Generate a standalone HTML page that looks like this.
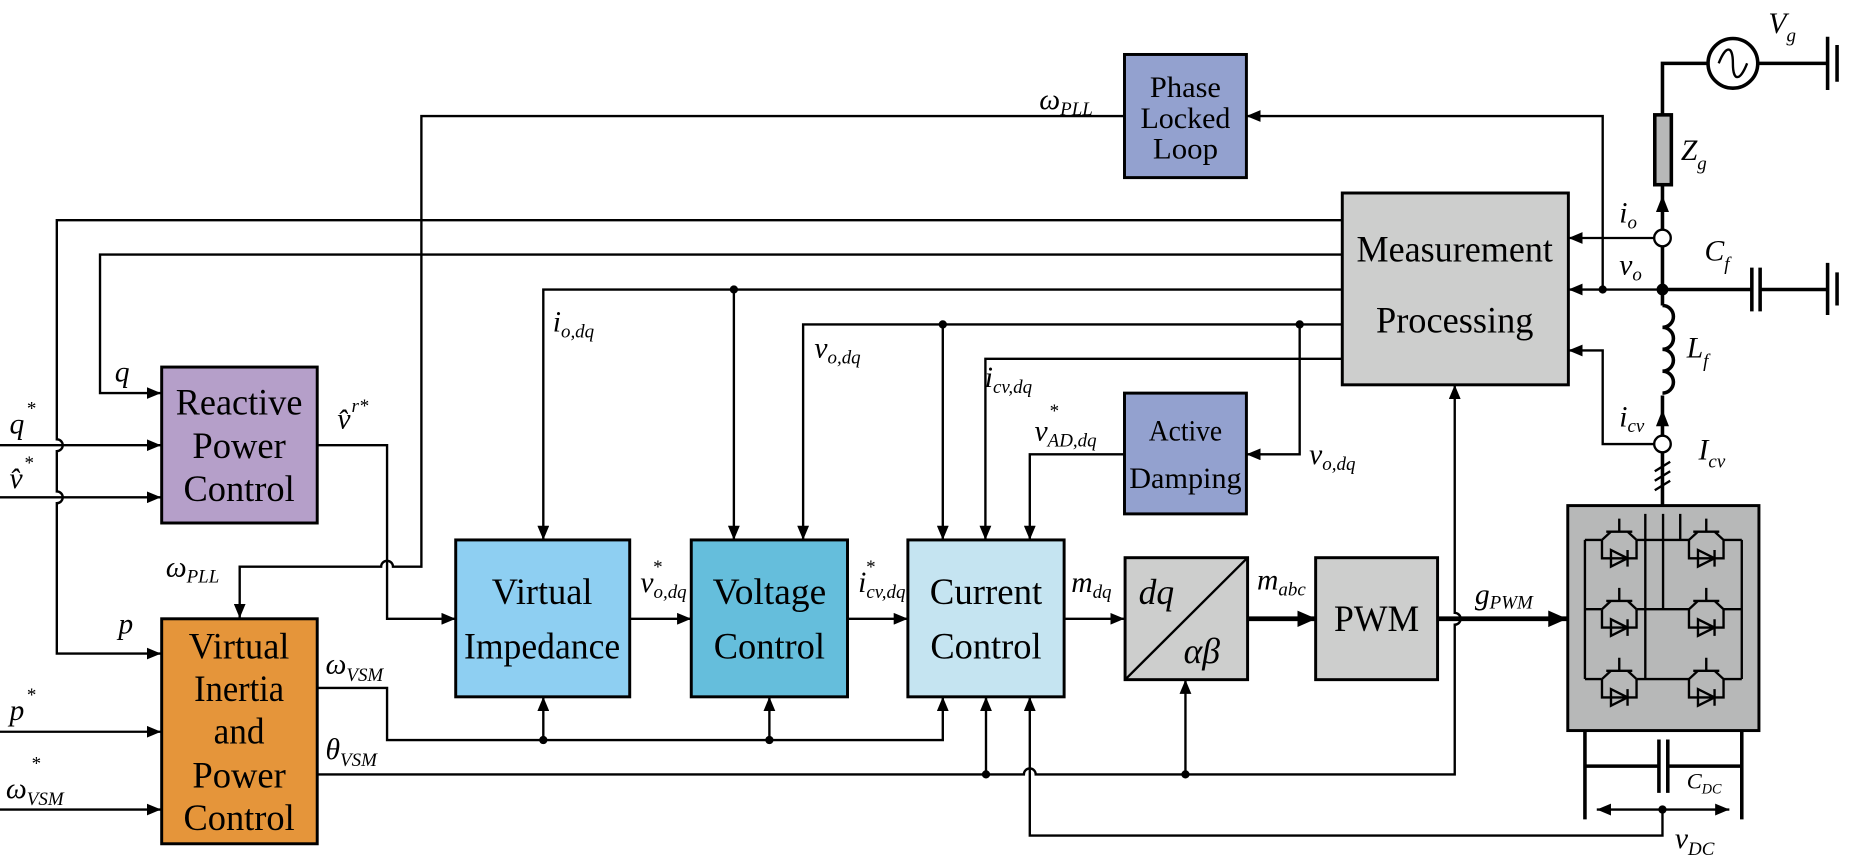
<!DOCTYPE html>
<html><head><meta charset="utf-8"><style>
html,body{margin:0;padding:0;background:#fff;}
svg{display:block;}
text{font-family:"Liberation Serif",serif;fill:#000;}
.b{font-size:31px;text-anchor:middle;}
.l{font-size:25px;font-style:italic;}
.s{font-size:16px;font-style:italic;}
</style></head><body>
<svg width="1856" height="862" viewBox="0 0 1568 728" preserveAspectRatio="none" xmlns="http://www.w3.org/2000/svg">
<defs>
<marker id="a" markerUnits="userSpaceOnUse" markerWidth="12" markerHeight="10" refX="12" refY="5" orient="auto"><path d="M0,0L12,5L0,10z" fill="#000"/></marker>
<marker id="A" markerUnits="userSpaceOnUse" markerWidth="16" markerHeight="14" refX="16" refY="7" orient="auto"><path d="M0,0L16,7L0,14z" fill="#000"/></marker>
<marker id="d" markerUnits="userSpaceOnUse" markerWidth="12" markerHeight="10" refX="12" refY="5" orient="auto-start-reverse"><path d="M0,0L12,5L0,10z" fill="#000"/></marker>
<g id="sw"><path d="M0,-18V-7M-11,-7H11M-7,-7L-14.6,0M7,-7L14.6,0M-14.6,0V15.5H14.6V0M-7,8.5V22.5L7,15.5z M7,8.5V22.5"/></g>
</defs>
<g fill="none" stroke="#000" stroke-width="2">
<path d="M950,98H356V478.6H332A5,5 0 0 0 322,478.6H202.5V522" marker-end="url(#a)"/>
<path d="M1354,244.5V98H1053" marker-end="url(#a)"/>
<path d="M1134,186H48V371A5,5 0 0 1 48,381V415A5,5 0 0 1 48,425V552H136" marker-end="url(#a)"/>
<path d="M1134,215H84.5V332H136" marker-end="url(#a)"/>
<path d="M1134,244.5H459V456" marker-end="url(#a)"/>
<path d="M620,244.5V456" marker-end="url(#a)"/>
<path d="M1134,274H678.5V456" marker-end="url(#a)"/>
<path d="M796.5,274V456" marker-end="url(#a)"/>
<path d="M1098,274V383.7H1053" marker-end="url(#a)"/>
<path d="M1134,303H832.5V456" marker-end="url(#a)"/>
<path d="M950,383.7H870V456" marker-end="url(#a)"/>
<path d="M1397,201H1325" marker-end="url(#a)"/>
<path d="M1404.5,244.5H1325" marker-end="url(#a)"/>
<path d="M1397,375H1354V296H1325" marker-end="url(#a)"/>
<path d="M0,376H136" marker-end="url(#a)"/>
<path d="M0,420H136" marker-end="url(#a)"/>
<path d="M268,376H327V522.6H385" marker-end="url(#a)"/>
<path d="M0,618H136" marker-end="url(#a)"/>
<path d="M0,683.7H136" marker-end="url(#a)"/>
<path d="M268,581H327V625H796.5V588.5" marker-end="url(#a)"/>
<path d="M459,625V588.5" marker-end="url(#a)"/>
<path d="M650,625V588.5" marker-end="url(#a)"/>
<path d="M268,654H865A5,5 0 0 1 875,654H1229V527.6A5,5 0 0 0 1229,517.6V325" marker-end="url(#a)"/>
<path d="M833,654V588.5" marker-end="url(#a)"/>
<path d="M1001.5,654V574" marker-end="url(#a)"/>
<path d="M1404.5,683.7V705.7H870V588.5" marker-end="url(#a)"/>
<path d="M532,522.6H584" marker-end="url(#a)"/>
<path d="M716,522.6H767" marker-end="url(#a)"/>
<path d="M899,522.6H950" marker-end="url(#a)"/>
<path d="M1054,522.6H1112" stroke-width="4" marker-end="url(#A)"/>
<path d="M1214.5,522.6H1324" stroke-width="4" marker-end="url(#A)"/>
<path d="M1404.5,427V53.5H1443M1485,53.5H1544M1544,31V76M1552,38V69" stroke-width="3"/>
<circle cx="1464" cy="53.5" r="21" stroke-width="3"/>
<path d="M1452,53.5C1458,38 1464,38 1464,53.5S1470,69 1476,53.5" stroke-width="2"/>
<rect x="1398" y="97" width="14" height="59" fill="#b7b8b8" stroke-width="3"/>
<path d="M1404.5,244.5H1480M1480,226V263M1487,226V263M1487,244.5H1544M1544,222V266M1552,230V258" stroke-width="3"/>
<rect x="1399" y="258" width="12" height="76" fill="#fff" stroke="none"/>
<path d="M1404.5,258A9,9 0 0 1 1404.5,276.5A9,9 0 0 1 1404.5,295A9,9 0 0 1 1404.5,313.5A9,9 0 0 1 1404.5,332" stroke-width="3"/>
<circle cx="1404.5" cy="201" r="7" fill="#fff" stroke-width="2"/>
<circle cx="1404.5" cy="375" r="7" fill="#fff" stroke-width="2"/>
<path d="M1398,398L1411,390M1398,406L1411,398M1398,414L1411,406" stroke-width="2"/>
<path d="M1339,618V692M1471.5,618V692M1339,647H1401.5M1409,647H1471.5M1401.5,624.5V669.6M1409,624.5V669.6" stroke-width="3"/>
<path d="M1349,683.7H1461" marker-start="url(#d)" marker-end="url(#d)"/>
</g>
<g fill="#000">
<circle cx="1354" cy="244.5" r="3.5"/><circle cx="620" cy="244.5" r="3.5"/>
<circle cx="796.5" cy="274" r="3.5"/><circle cx="1098" cy="274" r="3.5"/>
<circle cx="459" cy="625" r="3.5"/><circle cx="650" cy="625" r="3.5"/>
<circle cx="833" cy="654" r="3.5"/><circle cx="1001.5" cy="654" r="3.5"/>
<circle cx="1404.5" cy="244.5" r="5"/><circle cx="1404.5" cy="683.7" r="3.5"/>
<path d="M1404.5,165L1410,179H1399z"/><path d="M1404.5,346L1410,360H1399z"/>
</g>
<g stroke="#000" stroke-width="2.5">
<rect x="950" y="46" width="103" height="104" fill="#93a1cf"/>
<rect x="1134" y="163" width="191" height="162" fill="#cdcecd"/>
<rect x="950" y="332" width="103" height="102" fill="#93a1cf"/>
<rect x="136.6" y="310" width="131.4" height="131.7" fill="#b59fc9"/>
<rect x="136.6" y="522.6" width="131.4" height="190" fill="#e5953a"/>
<rect x="385" y="456" width="147" height="132.5" fill="#8ecff2"/>
<rect x="584" y="456" width="132" height="132.5" fill="#65bedc"/>
<rect x="767" y="456" width="132" height="132.5" fill="#c5e4f1"/>
<rect x="950.5" y="471" width="103.5" height="103" fill="#cdcecd"/>
<rect x="1111.5" y="471" width="103" height="103" fill="#cdcecd"/>
<rect x="1324.5" y="427" width="161.5" height="190" fill="#b7b8b8"/>
</g>
<path d="M950.5,574L1054,471" stroke="#000" stroke-width="2"/>
<g fill="none" stroke="#000" stroke-width="2">
<path d="M1339,456V573.5M1471.5,456V573.5M1390,434V573.5M1405,434V514.5M1419.5,434V456"/>
<path d="M1339,456H1353M1383,456H1427M1456,456H1471.5"/>
<path d="M1339,514.5H1353M1383,514.5H1427M1456,514.5H1471.5"/>
<path d="M1339,573.5H1353M1383,573.5H1427M1456,573.5H1471.5"/>
<use href="#sw" x="1368" y="456"/><use href="#sw" x="1441.5" y="456"/>
<use href="#sw" x="1368" y="514.5"/><use href="#sw" x="1441.5" y="514.5"/>
<use href="#sw" x="1368" y="573.5"/><use href="#sw" x="1441.5" y="573.5"/>
</g>
<g lengthAdjust="spacingAndGlyphs">
<text class="b" x="1001.5" y="82" style="font-size:25px" textLength="60" lengthAdjust="spacingAndGlyphs">Phase</text>
<text class="b" x="1001.5" y="108" style="font-size:25px" textLength="76" lengthAdjust="spacingAndGlyphs">Locked</text>
<text class="b" x="1001.5" y="134" style="font-size:25px" textLength="55" lengthAdjust="spacingAndGlyphs">Loop</text>
<text class="b" x="1001.5" y="372" style="font-size:25px" textLength="62" lengthAdjust="spacingAndGlyphs">Active</text>
<text class="b" x="1001.5" y="412" style="font-size:25px" textLength="95" lengthAdjust="spacingAndGlyphs">Damping</text>
<text class="b" x="1229" y="221" textLength="166" lengthAdjust="spacingAndGlyphs">Measurement</text>
<text class="b" x="1229" y="281" textLength="133" lengthAdjust="spacingAndGlyphs">Processing</text>
<text class="b" x="202" y="350" textLength="107" lengthAdjust="spacingAndGlyphs">Reactive</text>
<text class="b" x="202" y="387" textLength="79" lengthAdjust="spacingAndGlyphs">Power</text>
<text class="b" x="202" y="423" textLength="94" lengthAdjust="spacingAndGlyphs">Control</text>
<text class="b" x="202" y="556" textLength="85" lengthAdjust="spacingAndGlyphs">Virtual</text>
<text class="b" x="202" y="592" textLength="76" lengthAdjust="spacingAndGlyphs">Inertia</text>
<text class="b" x="202" y="628" textLength="43" lengthAdjust="spacingAndGlyphs">and</text>
<text class="b" x="202" y="665" textLength="79" lengthAdjust="spacingAndGlyphs">Power</text>
<text class="b" x="202" y="701" textLength="94" lengthAdjust="spacingAndGlyphs">Control</text>
<text class="b" x="458" y="510" textLength="85" lengthAdjust="spacingAndGlyphs">Virtual</text>
<text class="b" x="458" y="556" textLength="132" lengthAdjust="spacingAndGlyphs">Impedance</text>
<text class="b" x="650" y="510" textLength="96" lengthAdjust="spacingAndGlyphs">Voltage</text>
<text class="b" x="650" y="556" textLength="94" lengthAdjust="spacingAndGlyphs">Control</text>
<text class="b" x="833" y="510" textLength="95" lengthAdjust="spacingAndGlyphs">Current</text>
<text class="b" x="833" y="556" textLength="94" lengthAdjust="spacingAndGlyphs">Control</text>
<text class="b" x="1163" y="533" textLength="72" lengthAdjust="spacingAndGlyphs">PWM</text>
</g>
<text class="l" x="962" y="510" style="font-size:30px">dq</text>
<text class="l" x="1000" y="560" style="font-size:30px">αβ</text>
<text class="l" x="878" y="92">ω<tspan class="s" dy="5">PLL</tspan></text>
<text class="l" x="140" y="487">ω<tspan class="s" dy="5">PLL</tspan></text>
<text class="l" x="1368" y="188">i<tspan class="s" dy="5">o</tspan></text>
<text class="l" x="1368" y="232">v<tspan class="s" dy="5">o</tspan></text>
<text class="l" x="1368" y="360">i<tspan class="s" dy="5">cv</tspan></text>
<text class="l" x="1494" y="28">V<tspan class="s" dy="7">g</tspan></text>
<text class="l" x="1420" y="135">Z<tspan class="s" dy="8">g</tspan></text>
<text class="l" x="1440" y="220">C<tspan class="s" dy="8">f</tspan></text>
<text class="l" x="1425" y="302">L<tspan class="s" dy="8">f</tspan></text>
<text class="l" x="1435" y="388">I<tspan class="s" dy="7">cv</tspan></text>
<text class="l" x="1425" y="666" style="font-size:19px">C<tspan class="s" dy="4" style="font-size:12px">DC</tspan></text>
<text class="l" x="1415" y="716">v<tspan class="s" dy="6">DC</tspan></text>
<text class="l" x="467" y="280">i<tspan class="s" dy="5">o,dq</tspan></text>
<text class="l" x="688" y="302">v<tspan class="s" dy="5">o,dq</tspan></text>
<text class="l" x="832" y="327">i<tspan class="s" dy="5">cv,dq</tspan></text>
<text class="l" x="874" y="372">v<tspan class="s" dy="5">AD,dq</tspan></text>
<text class="s" x="886" y="352">*</text>
<text class="l" x="1106" y="392">v<tspan class="s" dy="5">o,dq</tspan></text>
<text class="l" x="97" y="322">q</text>
<text class="l" x="8" y="366">q</text><text class="s" x="22" y="350">*</text>
<text class="l" x="8" y="412">v̂</text><text class="s" x="20" y="396">*</text>
<text class="l" x="285" y="362">v̂</text><text class="s" x="297" y="348">r*</text>
<text class="l" x="100" y="535">p</text>
<text class="l" x="8" y="608">p</text><text class="s" x="22" y="592">*</text>
<text class="l" x="5" y="674">ω<tspan class="s" dy="6">VSM</tspan></text><text class="s" x="26" y="650">*</text>
<text class="l" x="275" y="569">ω<tspan class="s" dy="6">VSM</tspan></text>
<text class="l" x="275" y="641">θ<tspan class="s" dy="6">VSM</tspan></text>
<text class="l" x="541" y="500">v<tspan class="s" dy="5">o,dq</tspan></text><text class="s" x="551" y="484">*</text>
<text class="l" x="725" y="500">i<tspan class="s" dy="5">cv,dq</tspan></text><text class="s" x="731" y="484">*</text>
<text class="l" x="905" y="500">m<tspan class="s" dy="5">dq</tspan></text>
<text class="l" x="1062" y="498">m<tspan class="s" dy="5">abc</tspan></text>
<text class="l" x="1246" y="510">g<tspan class="s" dy="4">PWM</tspan></text>
</svg>
</body></html>
